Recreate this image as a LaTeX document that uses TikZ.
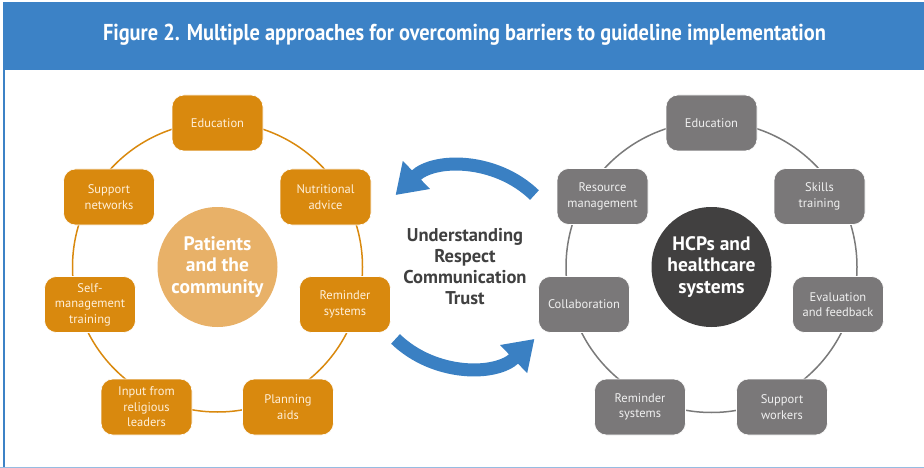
\documentclass[tikz,border=0pt]{standalone}
\usepackage{fontspec}
\setmainfont{PT Sans}
\usepackage{graphicx}
\usepackage{tikz}
\usetikzlibrary{arrows.meta,positioning,calc}
\definecolor{hblue}{RGB}{60,130,198}
\definecolor{lineblue}{RGB}{150,188,225}
\definecolor{porange}{RGB}{217,137,14}
\definecolor{pcorecol}{RGB}{232,177,104}
\definecolor{ptext}{RGB}{255,240,218}
\definecolor{hgrey}{RGB}{122,120,121}
\definecolor{hcorecol}{RGB}{65,64,64}
\definecolor{ringgrey}{RGB}{122,122,122}
\definecolor{arrowblue}{RGB}{58,128,195}
\definecolor{midtext}{RGB}{64,64,64}

\begin{document}
\begin{tikzpicture}[x=1pt, y=-1pt,
  pbox/.style={rectangle, draw=white, line width=0.6pt, fill=porange, text=ptext, minimum width=91pt, minimum height=56pt, rounded corners=12pt, align=center, inner sep=2pt, font=\fontsize{12.5}{15.5}\selectfont},
  hbox/.style={pbox, fill=hgrey, text=white!94!black},
  pcore/.style={circle, fill=pcorecol, minimum size=120pt, inner sep=0pt, align=center, text=white, font=\bfseries\fontsize{19.5}{21.5}\selectfont},
  hcore/.style={pcore, fill=hcorecol},
  pring/.style={line width=1.5pt, color=porange},
  hring/.style={line width=1.5pt, color=ringgrey},
  flow/.style={line width=13pt, color=arrowblue, -{Triangle[length=29pt,width=37pt]}}]
\useasboundingbox (0,0) rectangle (924,468);
% header and frame
\fill[hblue] (3,2) rectangle (924,70);
\node[anchor=base, text=white, font=\bfseries\fontsize{23}{26}\selectfont] (title) at (464.5,41) {\resizebox{723pt}{\height}{Figure 2. Multiple approaches for overcoming barriers to guideline implementation}};
\draw[line width=2pt, color=hblue] (4.3,70) -- (4.3,468);
\draw[line width=1pt, color=lineblue] (0,467.5) -- (924,467.5);
% patients side
\coordinate (pmid) at (217.5,267);
\draw[pring] (pmid) circle[radius=145];
\node[pcore] (pc) at (pmid) {Patients\\and the\\community};
\node[pbox] (p1) at (217.5,123) {Education};
\node[pbox] (p2) at (325.5,197) {Nutritional\\advice};
\node[pbox] (p3) at (345,304.5) {Reminder\\systems};
\node[pbox] (p4) at (288,407) {Planning\\aids};
\node[pbox] (p5) at (146.5,407) {Input from\\religious\\leaders};
\node[pbox] (p6) at (90,304.5) {Self-\\management\\training};
\node[pbox] (p7) at (109,197) {Support\\networks};
% HCP side
\coordinate (hmid) at (711.5,267);
\draw[hring] (hmid) circle[radius=145.5];
\node[hcore] (hc) at (hmid) {HCPs and\\healthcare\\systems};
\node[hbox] (h1) at (711.5,123) {Education};
\node[hbox] (h2) at (819.5,196.5) {Skills\\training};
\node[hbox] (h3) at (838,304.5) {Evaluation\\and feedback};
\node[hbox] (h4) at (782,407) {Support\\workers};
\node[hbox] (h5) at (640,407) {Reminder\\systems};
\node[hbox] (h6) at (584,304.5) {Collaboration};
\node[hbox] (h7) at (602.5,196.5) {Resource\\management};
% middle
\coordinate (mid) at (465,267);
\node[text=midtext, align=center, font=\bfseries\fontsize{18.5}{21}\selectfont] (values) at (mid) {Understanding\\Respect\\Communication\\Trust};
\draw[flow] ($(mid)+(-46:100)$) arc[start angle=-46, end angle=-134, radius=100];
\draw[flow] ($(mid)+(134:100)$) arc[start angle=134, end angle=46, radius=100];
\end{tikzpicture}
\end{document}
